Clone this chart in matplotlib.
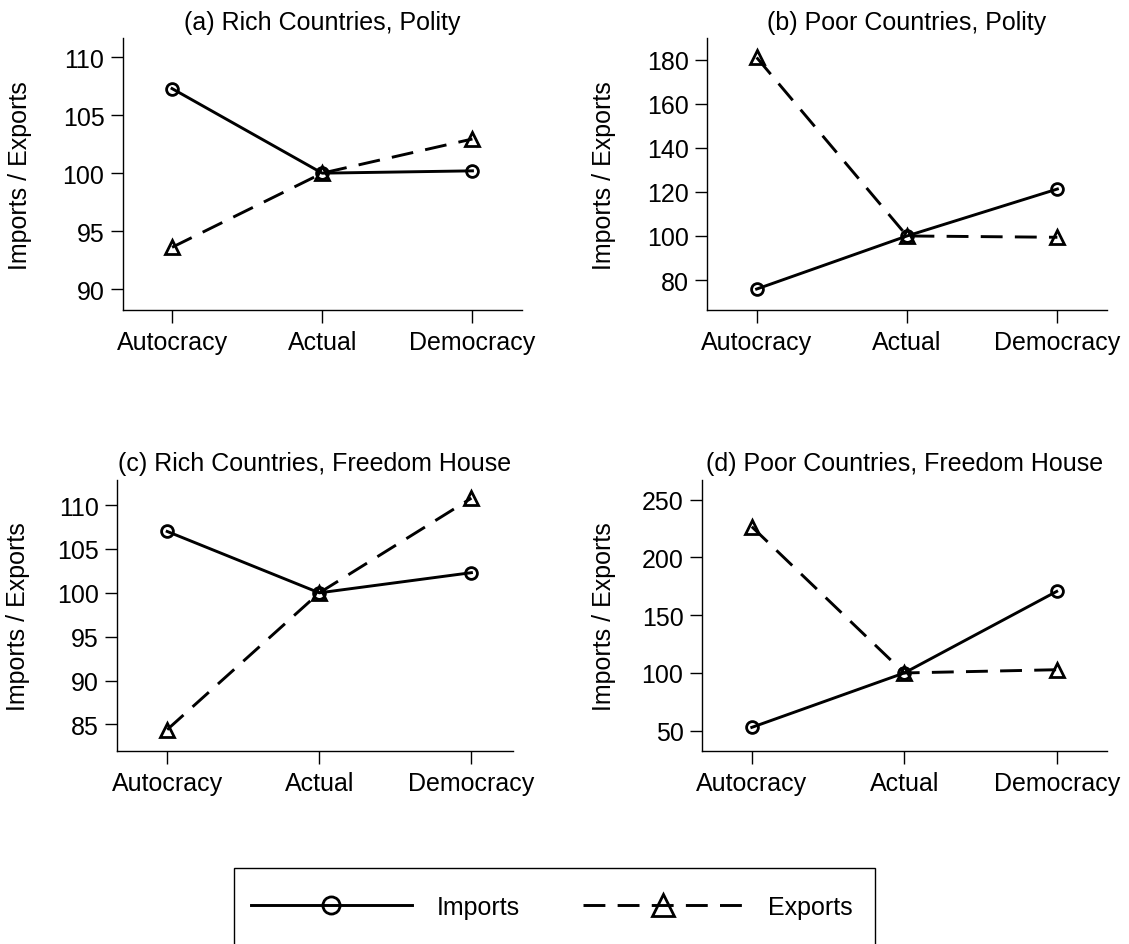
import matplotlib
matplotlib.use("Agg")
import matplotlib.pyplot as plt
import matplotlib.transforms as mtransforms
from matplotlib.lines import Line2D
from matplotlib.patches import Rectangle

plt.rcParams['font.family'] = ['Liberation Sans', 'DejaVu Sans']
plt.rcParams['font.size'] = 18

categories = ['Autocracy', 'Actual', 'Democracy']

titles = ['(a) Rich Countries, Polity', '(b) Poor Countries, Polity',
          '(c) Rich Countries, Freedom House', '(d) Poor Countries, Freedom House']

a_imports = [107.3, 100.0, 100.2]
a_exports = [93.6, 100.0, 102.95]
b_imports = [75.9, 100.0, 121.3]
b_exports = [181.0, 100.0, 99.4]
c_imports = [107.0, 100.0, 102.3]
c_exports = [84.4, 100.0, 110.8]
d_imports = [52.9, 100.0, 170.6]
d_exports = [226.6, 100.0, 102.8]

a_yticks = [90, 95, 100, 105, 110]
b_yticks = [80, 100, 120, 140, 160, 180]
c_yticks = [85, 90, 95, 100, 105, 110]
d_yticks = [50, 100, 150, 200, 250]

W, H = 1129, 945
fig = plt.figure(figsize=(W / 100, H / 100), dpi=100)

# axes boxes in pixels: left, right, top, bottom
boxes = [(122.5, 522, 39.3, 311), (707, 1107, 39.3, 311),
         (117, 512.5, 480.7, 751.7), (701.5, 1107, 480.7, 751.7)]
ylims = [(88.19, 111.64), (66.4, 189.7), (82.0, 112.9), (32.7, 267.3)]
xlims = [(-0.33, 2.33), (-0.33, 2.33), (-0.33, 2.27), (-0.33, 2.33)]
ylabel_x = [32, 616, 30, 616]

series = [(a_imports, a_exports), (b_imports, b_exports),
          (c_imports, c_exports), (d_imports, d_exports)]
yticks = [a_yticks, b_yticks, c_yticks, d_yticks]

x = list(range(len(categories)))
LW = 2.1
MEW = 2.0
dash = (7.5, 4.2)

for i, (l, r, t, b) in enumerate(boxes):
    ax = fig.add_axes([l / W, 1 - b / H, (r - l) / W, (b - t) / H])
    imp, exp = series[i]
    ax.plot(x, imp, color='black', lw=LW, marker='o', ms=8.5, mew=MEW,
            mfc='none', mec='black', label='Imports')
    ax.plot(x, exp, color='black', lw=LW, ls=(0, dash), marker='^', ms=10.5,
            mew=MEW, mfc='none', mec='black', label='Exports')
    ax.set_xlim(*xlims[i])
    ax.set_ylim(*ylims[i])
    ax.set_xticks(x)
    ax.set_xticklabels(categories)
    ax.set_yticks(yticks[i])
    ax.spines['top'].set_visible(False)
    ax.spines['right'].set_visible(False)
    for s in ('left', 'bottom'):
        ax.spines[s].set_linewidth(1.0)
    ax.tick_params(axis='x', length=9.5, width=1.0, pad=5, labelsize=18)
    ax.tick_params(axis='y', length=9, width=1.0, pad=4, labelsize=18)
    ax.set_title(titles[i], fontsize=18, pad=7)
    ax.set_ylabel('Imports / Exports', fontsize=18)
    tr = mtransforms.blended_transform_factory(fig.transFigure, ax.transAxes)
    ax.yaxis.set_label_coords(ylabel_x[i] / W, 0.5, transform=tr)

# legend
handles = [Line2D([], [], color='black', lw=LW, marker='o', ms=8.5, mew=MEW,
                  mfc='none', mec='black'),
           Line2D([], [], color='black', lw=LW, ls=(0, dash), marker='^', ms=10.5,
                  mew=MEW, mfc='none', mec='black')]
fig.legend(handles, ['Imports', 'Exports'], loc='center',
           bbox_to_anchor=(552 / W, 1 - 908 / H), ncol=2, frameon=False,
           handlelength=6.44, handletextpad=1.0, columnspacing=2.5,
           numpoints=1, markerscale=1.45, borderpad=0, fontsize=18)
fig.patches.append(Rectangle((234 / W, 1 - 947 / H), (875 - 234) / W, (947 - 869) / H,
                             transform=fig.transFigure, fill=False, lw=1.0,
                             ec='black'))

fig.savefig('out.png', dpi=100)
